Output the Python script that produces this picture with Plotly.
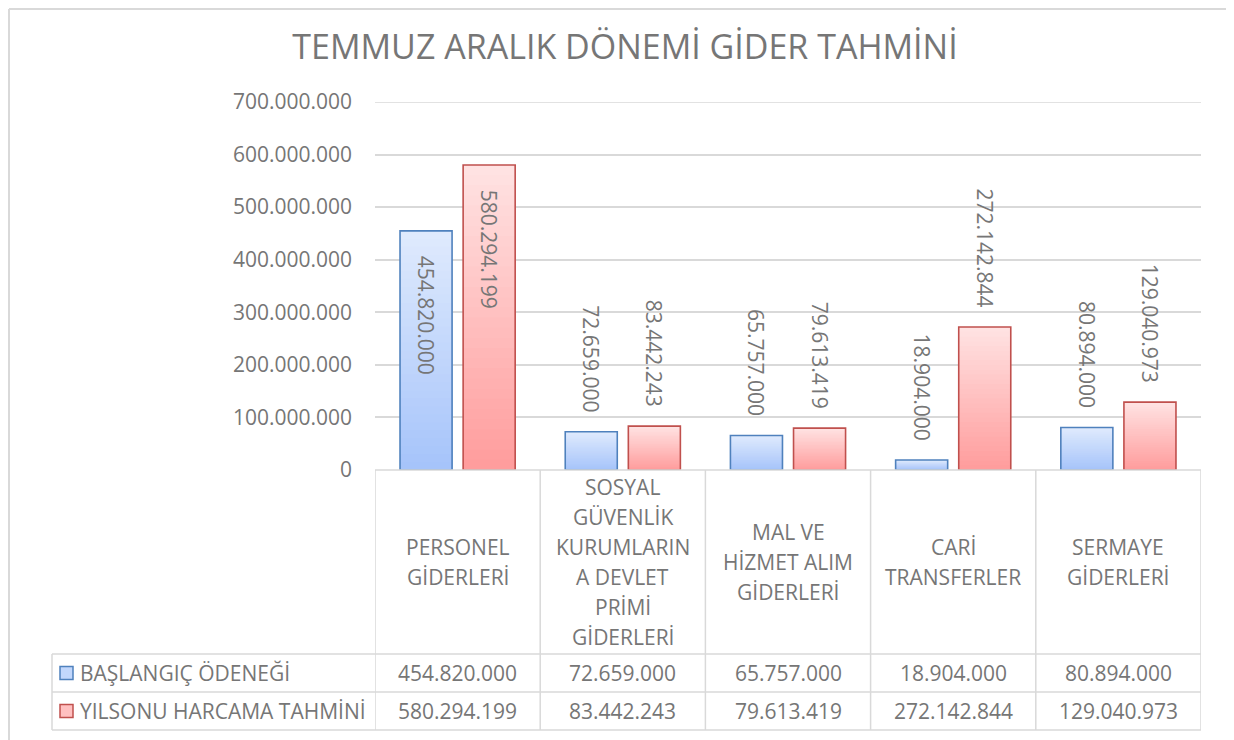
import plotly.graph_objects as go

# data
categories = [["PERSONEL", "GİDERLERİ"],
              ["SOSYAL", "GÜVENLİK", "KURUMLARIN", "A DEVLET", "PRİMİ", "GİDERLERİ"],
              ["MAL VE", "HİZMET ALIM", "GİDERLERİ"],
              ["CARİ", "TRANSFERLER"],
              ["SERMAYE", "GİDERLERİ"]]
series_names = ["BAŞLANGIÇ ÖDENEĞİ", "YILSONU HARCAMA TAHMİNİ"]
baslangic = [454820000, 72659000, 65757000, 18904000, 80894000]
yilsonu = [580294199, 83442243, 79613419, 272142844, 129040973]
y_ticks = [0, 100000000, 200000000, 300000000, 400000000, 500000000, 600000000, 700000000]

W, H = 1234, 740
OFF = 8                             # page body margin
L, R, T, B = 375, 1201, 102, 470   # plot area, screenshot pixels
FONT = "Open Sans"
TXT = "#767676"
GRID = "#d9d9d9"
FS = 21
PAD = "\u00a0"


def px(x):
    return (x - L) / (R - L)


def py(y):
    return (B - y) / (B - T)


def mix(c1, c2, t):
    a = [int(c1[i:i + 2], 16) for i in (1, 3, 5)]
    b = [int(c2[i:i + 2], 16) for i in (1, 3, 5)]
    return "rgb(%d,%d,%d)" % tuple(round(a[i] + (b[i] - a[i]) * t) for i in range(3))


def fmt(v):
    return f"{v:,}".replace(",", ".")


x = list(range(len(categories)))
bw = 0.315
styles = [
    dict(vals=baslangic, top="#dfeafd", bot="#a6c4fa", line="#4f81bd", offset=-0.3485,
         pos=["inside", "outside", "outside", "outside", "outside"]),
    dict(vals=yilsonu, top="#ffe2e2", bot="#ff9d9d", line="#c0504d", offset=0.0335,
         pos=["inside", "outside", "outside", "outside", "outside"]),
]

fig = go.Figure()
N = 30
for s, name in zip(styles, series_names):
    # gradient: overlapping bars, lighter at top, darker at bottom
    for k in range(N):
        fig.add_trace(go.Bar(
            x=x, y=[v * (N - k) / N for v in s["vals"]],
            offset=s["offset"], width=bw,
            marker=dict(color=mix(s["top"], s["bot"], k / (N - 1)), line=dict(width=0)),
            showlegend=False, hoverinfo="skip"))
    labels = [(PAD * 4 + fmt(v)) if p == "inside" else (fmt(v) + PAD * 3)
              for v, p in zip(s["vals"], s["pos"])]
    fig.add_trace(go.Bar(
        x=x, y=s["vals"], name=name,
        offset=s["offset"], width=bw,
        marker=dict(color="rgba(0,0,0,0)", line=dict(color=s["line"], width=1.6)),
        text=labels, textposition=s["pos"],
        insidetextanchor="end", textangle=90, constraintext="none",
        textfont=dict(family=FONT, size=FS, color=TXT),
        cliponaxis=False, showlegend=False))

shapes = []
line = dict(color=GRID, width=1.5)
border = dict(color=GRID, width=2)
# chart border (left/top as close as the page allows)
shapes.append(dict(type="line", xref="paper", yref="paper", x0=px(9), x1=px(9),
                   y0=py(9), y1=py(760), line=border))
shapes.append(dict(type="line", xref="paper", yref="paper", x0=px(9), x1=px(1231),
                   y0=py(9), y1=py(9), line=border))
shapes.append(dict(type="line", xref="paper", yref="paper", x0=px(1231), x1=px(1231),
                   y0=py(9), y1=py(760), line=border))
# top gridline
shapes.append(dict(type="line", xref="paper", yref="y", x0=0, x1=1,
                   y0=y_ticks[-1], y1=y_ticks[-1], line=line))
# data table
row_y = [654, 692, 730]
for i in range(len(categories) + 1):
    shapes.append(dict(type="line", xref="x", yref="paper", x0=i - 0.5, x1=i - 0.5,
                       y0=py(470), y1=py(row_y[-1]), line=line))
shapes.append(dict(type="line", xref="paper", yref="paper", x0=px(52), x1=px(52),
                   y0=py(row_y[0]), y1=py(row_y[-1]), line=line))
shapes.append(dict(type="line", xref="paper", yref="paper", x0=0, x1=1,
                   y0=py(470), y1=py(470), line=line))
for ry in row_y:
    shapes.append(dict(type="line", xref="paper", yref="paper", x0=px(52), x1=1,
                       y0=py(ry), y1=py(ry), line=line))

annotations = []
LH = 30
for i, c in enumerate(categories):
    top = 562 - LH * (len(c) - 1) / 2
    for j, part in enumerate(c):
        annotations.append(dict(x=i, y=py(top + j * LH), xref="x", yref="paper", text=part,
                                showarrow=False, xanchor="center", yanchor="middle",
                                font=dict(family=FONT, size=FS, color=TXT)))
for r, (s, name) in enumerate(zip(styles, series_names)):
    yc = (row_y[r] + row_y[r + 1]) / 2
    shapes.append(dict(type="rect", xref="paper", yref="paper",
                       x0=px(60), x1=px(73), y0=py(yc - 6.5), y1=py(yc + 6.5),
                       fillcolor=mix(s["top"], s["bot"], 0.5), line=dict(color=s["line"], width=1.5)))
    annotations.append(dict(x=px(78), y=py(yc), xref="paper", yref="paper", text=name,
                            showarrow=False, xanchor="left", yanchor="middle",
                            font=dict(family=FONT, size=FS, color=TXT)))
    for i, v in enumerate(s["vals"]):
        annotations.append(dict(x=i, y=py(yc), xref="x", yref="paper", text=fmt(v),
                                showarrow=False, xanchor="center", yanchor="middle",
                                font=dict(family=FONT, size=FS, color=TXT)))

fig.update_layout(
    width=W, height=H,
    margin=dict(l=L - OFF, r=W - (R - OFF), t=T - OFF, b=H - (B - OFF), pad=0),
    paper_bgcolor="white", plot_bgcolor="white",
    barmode="overlay",
    separators=",.",
    title=dict(text="TEMMUZ ARALIK DÖNEMİ GİDER TAHMİNİ", x=0.5, xanchor="center",
               y=1 - (47 - OFF) / H, yanchor="middle", yref="container",
               font=dict(family=FONT, size=34, color=TXT)),
    xaxis=dict(range=[-0.5, len(categories) - 0.5], showticklabels=False, showgrid=False,
               zeroline=False, showline=False, fixedrange=True),
    yaxis=dict(range=[0, 700000000], tickvals=y_ticks, tickformat=",d",
               showgrid=True, gridcolor=GRID, gridwidth=1.5, zeroline=False, showline=False,
               ticks="", ticklabelstandoff=22,
               tickfont=dict(family=FONT, size=FS, color=TXT)),
    shapes=shapes,
    annotations=annotations,
    showlegend=False,
)

fig.write_html("out.html")
